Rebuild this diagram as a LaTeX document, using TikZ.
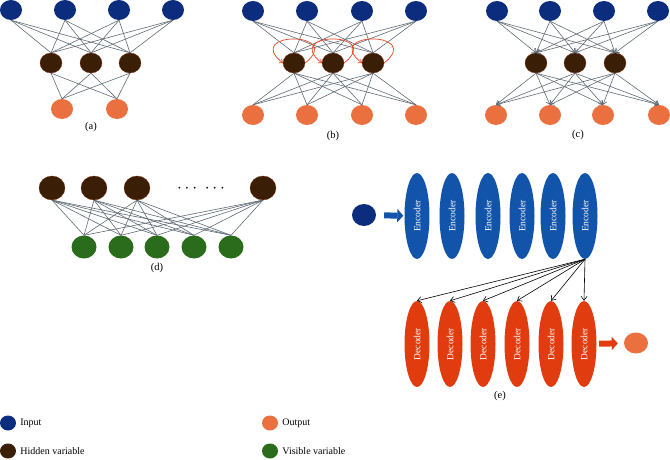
\documentclass[tikz,border=0pt]{standalone}
\usepackage{fontspec}
\setmainfont{Liberation Serif}
\usetikzlibrary{shapes.geometric,arrows.meta,positioning}

\definecolor{bleuE}{HTML}{0C2D7D}
\definecolor{brun}{HTML}{3A1E06}
\definecolor{brunBord}{HTML}{7A2A0C}
\definecolor{orangeS}{HTML}{EB7040}
\definecolor{vert}{HTML}{2A6C1C}
\definecolor{bleuC}{HTML}{1254AA}
\definecolor{rougeD}{HTML}{E13C0F}
\definecolor{gris}{HTML}{5F6973}
\definecolor{rougeB}{HTML}{EB411E}

\tikzset{
  neurone/.style={ellipse, inner sep=0pt, minimum width=22pt, minimum height=20pt},
  entree/.style={neurone, fill=bleuE},
  cachee/.style={neurone, fill=brun, draw=brunBord, line width=0.3pt},
  sortie/.style={neurone, fill=orangeS},
  visible/.style={neurone, fill=vert, minimum width=25pt, minimum height=23pt},
  lien/.style={draw=gris, line width=0.6pt},
  fleche/.style={lien, -{Straight Barb[length=3.5pt,width=5pt]}},
  boucle/.style={draw=rougeB, line width=0.7pt, -{Straight Barb[length=3pt,width=5pt]}},
  encodeur/.style={ellipse, inner sep=0pt, minimum width=25pt, minimum height=86pt,
    fill=bleuC, text=white, font=\fontsize{9.5}{10}\selectfont},
  decodeur/.style={encodeur, fill=rougeD},
  bloc/.style={line width=6pt, shorten <=8pt, shorten >=1pt, -{Triangle[length=6pt,width=13pt]}},
  etiq/.style={font=\fontsize{10.5}{12}\selectfont, inner sep=1pt},
  legende/.style={ellipse, inner sep=0pt, minimum width=16pt, minimum height=15pt},
  texteleg/.style={font=\fontsize{10}{12}\selectfont, inner sep=1pt, right=3pt of #1}
}

\begin{document}
\begin{tikzpicture}[x=1pt, y=-1pt]

  \useasboundingbox (0,0) rectangle (670,460);

  % Réseau (a)
  \foreach \x [count=\i] in {11,65,119,173} \node[entree] (a-i\i) at (\x,10) {};
  \foreach \x [count=\i] in {51,91,130} \node[cachee] (a-h\i) at (\x,63) {};
  \foreach \x [count=\i] in {62,117} \node[sortie] (a-o\i) at (\x,109) {};
  \foreach \i in {1,...,4} \foreach \j in {1,2,3} \draw[lien] (a-i\i.south) -- (a-h\j.north);
  \foreach \j in {1,2,3} \foreach \k in {1,2} \draw[lien] (a-h\j.south) -- (a-o\k.north);
  \node[etiq] (a-lab) at (91,127) {(a)};

  % Réseau (b), avec boucles récurrentes
  \foreach \x [count=\i] in {253,307,362,416} \node[entree] (b-i\i) at (\x,11) {};
  \foreach \x [count=\i] in {294,333,373} \node[cachee] (b-h\i) at (\x,63) {};
  \foreach \x [count=\i] in {253,307,362,416} \node[sortie] (b-o\i) at (\x,115) {};
  \foreach \i in {1,...,4} \foreach \j in {1,2,3} \draw[lien] (b-i\i.south) -- (b-h\j.north);
  \foreach \j in {1,2,3} \foreach \k in {1,...,4} \draw[lien] (b-h\j.south) -- (b-o\k.north);
  \foreach \j in {1,2,3}
    \draw[boucle] (b-h\j.east) .. controls +(40,-32) and +(-40,-32) .. (b-h\j.west);
  \node[etiq] (b-lab) at (333,136) {(b)};

  % Réseau (c)
  \foreach \x [count=\i] in {497,550,604,658} \node[entree] (c-i\i) at (\x,11) {};
  \foreach \x [count=\i] in {536,575,615} \node[cachee] (c-h\i) at (\x,63) {};
  \foreach \x [count=\i] in {496,550,603,659} \node[sortie] (c-o\i) at (\x,115) {};
  \foreach \i in {1,...,4} \foreach \j in {1,2,3} \draw[fleche] (c-i\i.south) -- (c-h\j.north);
  \foreach \j in {1,2,3} \foreach \k in {1,...,4} \draw[fleche] (c-h\j.south) -- (c-o\k.north);
  \node[etiq] (c-lab) at (578,135) {(c)};

  % Réseau (d)
  \foreach \x [count=\i] in {52,94,137,263}
    \node[cachee, minimum width=26pt, minimum height=24pt] (d-h\i) at (\x,188) {};
  \foreach \x [count=\i] in {84,121,157,194,231} \node[visible] (d-v\i) at (\x,247) {};
  \foreach \i in {1,...,4} \foreach \j in {1,...,5} \draw[lien] (d-h\i.south) -- (d-v\j.north);
  \node[font=\fontsize{16}{16}\selectfont] (d-pts) at (201,189) {$\cdots\;\cdots$};
  \node[etiq] (d-lab) at (157,268) {(d)};

  % Encodeurs et décodeurs (e)
  \node[entree, minimum width=24pt, minimum height=22pt] (e-x) at (364,215) {};
  \foreach \x [count=\i] in {417,452,488,522,553,585}
    \node[encodeur] (e-enc\i) at (\x,216) {\rotatebox{90}{Encoder}};
  \foreach \x [count=\i] in {417,450,483,517,551,584}
    \node[decodeur] (e-dec\i) at (\x,344) {\rotatebox{90}{Decoder}};
  \node[sortie, minimum width=24pt, minimum height=21pt] (e-y) at (636,343) {};
  \draw[bloc, bleuC] (e-x) -- (e-enc1);
  \draw[bloc, rougeD, shorten <=2.5pt, shorten >=6pt] (e-dec6) -- (e-y);
  \foreach \i in {1,...,6}
    \draw[line width=0.6pt, -{Straight Barb[length=4pt,width=6pt]}] (e-enc6.south) -- (e-dec\i.north);
  \node[etiq] (e-lab) at (500,396) {(e)};

  % Légende
  \node[legende, fill=bleuE] (l-in) at (8,423) {};
  \node[legende, fill=brun] (l-hid) at (8,451) {};
  \node[legende, fill=orangeS] (l-out) at (270,423) {};
  \node[legende, fill=vert] (l-vis) at (270,451) {};
  \node[texteleg=l-in] (t-in) {Input};
  \node[texteleg=l-hid] (t-hid) {Hidden variable};
  \node[texteleg=l-out] (t-out) {Output};
  \node[texteleg=l-vis] (t-vis) {Visible variable};

\end{tikzpicture}
\end{document}
